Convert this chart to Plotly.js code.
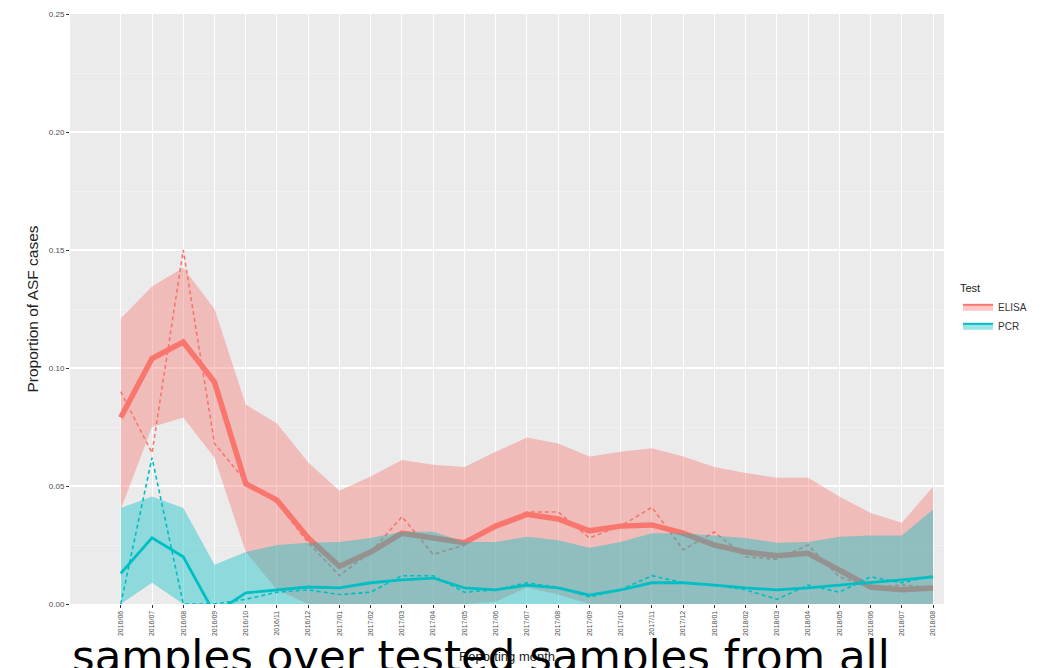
<!DOCTYPE html>
<html>
<head>
<meta charset="utf-8">
<script src="https://cdn.plot.ly/plotly-3.0.1.min.js"></script>
<style>html,body{margin:0;padding:0;background:#fff;}#chart{width:1044px;height:668px;}</style>
</head>
<body>
<div id="chart"></div>
<script>
// ---- data ----
var months = ["2016/06","2016/07","2016/08","2016/09","2016/10","2016/11","2016/12",
  "2017/01","2017/02","2017/03","2017/04","2017/05","2017/06","2017/07","2017/08",
  "2017/09","2017/10","2017/11","2017/12","2018/01","2018/02","2018/03","2018/04",
  "2018/05","2018/06","2018/07","2018/08"];

var elisaSmooth = [0.079,0.104,0.111,0.094,0.051,0.044,0.028,0.016,0.022,0.030,0.028,0.026,0.033,0.038,0.036,0.031,0.033,0.0335,0.030,0.025,0.022,0.0205,0.0215,0.0145,0.0072,0.006,0.0068];
var elisaRaw    = [0.090,0.064,0.150,0.068,0.052,0.043,0.026,0.012,0.022,0.037,0.021,0.025,0.033,0.039,0.039,0.028,0.033,0.041,0.023,0.0305,0.020,0.019,0.025,0.0115,0.007,0.008,0.007];
var elisaUpper  = [0.121,0.1345,0.1425,0.125,0.0845,0.0765,0.060,0.048,0.054,0.061,0.059,0.058,0.0645,0.0705,0.068,0.0625,0.0645,0.066,0.0625,0.058,0.0555,0.0535,0.0535,0.0455,0.0386,0.0344,0.0497];
var elisaLower  = [0.040,0.075,0.079,0.062,0.022,0.006,0,0,0,0,0,0,0.001,0.007,0.004,0,0,0,0,0,0,0,0,0,0,0,0];

var pcrSmooth = [0.013,0.028,0.020,-0.004,0.0047,0.006,0.0072,0.0068,0.009,0.0102,0.011,0.0068,0.006,0.008,0.0068,0.0038,0.006,0.009,0.009,0.008,0.0068,0.006,0.0068,0.008,0.009,0.0102,0.0115];
var pcrRaw    = [0.0,0.062,0.0,0.0,0.002,0.005,0.006,0.004,0.005,0.012,0.012,0.005,0.006,0.009,0.007,0.003,0.006,0.012,0.009,0.008,0.006,0.002,0.008,0.005,0.0115,0.009,0.012];
var pcrUpper  = [0.0407,0.0455,0.0407,0.0166,0.022,0.025,0.026,0.0263,0.028,0.0306,0.0306,0.0263,0.0263,0.0285,0.027,0.0238,0.0263,0.030,0.030,0.029,0.028,0.026,0.0263,0.0285,0.029,0.029,0.040];
var pcrLower  = [0,0.009,0,0,0,0,0,0,0,0,0,0,0,0,0,0,0,0,0,0,0,0,0,0,0,0,0];

var seriesNames = ["ELISA","PCR"];
var yTickVals = [0,0.05,0.10,0.15,0.20,0.25];
var captionText = "samples over tested samples from all";

// ---- styles ----
var RED = "#F8766D", TEAL = "#00BFC4";
var RED_FILL = "rgba(248,118,109,0.4)", TEAL_FILL = "rgba(0,191,196,0.4)";

function band(lower, upper, fill){
  return [
    {x: months, y: lower, type:"scatter", mode:"lines", line:{width:0, color:fill}, showlegend:false, hoverinfo:"skip"},
    {x: months, y: upper, type:"scatter", mode:"lines", line:{width:0, color:fill}, fill:"tonexty", fillcolor:fill, showlegend:false, hoverinfo:"skip"}
  ];
}

var traces = []
  .concat(band(elisaLower, elisaUpper, RED_FILL))
  .concat([
    {x: months, y: elisaRaw, type:"scatter", mode:"lines", line:{color:RED, width:1.6, dash:"4px,3px"}, showlegend:false},
    {x: months, y: elisaSmooth, type:"scatter", mode:"lines", line:{color:RED, width:5.5}, showlegend:false}
  ])
  .concat(band(pcrLower, pcrUpper, TEAL_FILL))
  .concat([
    {x: months, y: pcrRaw, type:"scatter", mode:"lines", line:{color:TEAL, width:1.6, dash:"4px,3px"}, showlegend:false},
    {x: months, y: pcrSmooth, type:"scatter", mode:"lines", line:{color:TEAL, width:2.8}, showlegend:false},
    // legend keys
    {x:[null], y:[null], type:"scatter", mode:"lines", name: seriesNames[0], legendgroup:"g1", fill:"toself", fillcolor:RED_FILL, line:{color:RED, width:2}},
    {x:[null], y:[null], type:"scatter", mode:"lines", name: seriesNames[1], legendgroup:"g2", fill:"toself", fillcolor:TEAL_FILL, line:{color:TEAL, width:2}}
  ]);

var layout = {
  width: 1044, height: 668,
  margin: {l:70, r:96, t:14, b:64, pad:0},
  paper_bgcolor: "#ffffff",
  plot_bgcolor: "#EBEBEB",
  font: {family: "Liberation Sans, Arial, sans-serif", color: "#4D4D4D"},
  xaxis: {
    type: "category",
    range: [-1.625, 26.35],
    tickangle: -90,
    tickfont: {size: 7, color: "#4D4D4D"},
    ticks: "outside", ticklen: 3, tickcolor: "#333333", tickwidth: 1,
    showgrid: true, gridcolor: "#ffffff", gridwidth: 1,
    zeroline: false, showline: false,
    title: {text: "Reporting month", font: {size: 13, color: "#222222"}, standoff: 16}
  },
  yaxis: {
    range: [0, 0.25],
    tickvals: yTickVals,
    tickformat: ".2f",
    tickfont: {size: 8, color: "#4D4D4D"},
    ticks: "outside", ticklen: 3, tickcolor: "#333333", tickwidth: 1,
    showgrid: true, gridcolor: "#ffffff", gridwidth: 1.1,
    minor: {dtick: 0.025, showgrid: true, gridcolor: "#F5F5F5", gridwidth: 0.6},
    zeroline: false, showline: false,
    title: {text: "Proportion of ASF cases", font: {size: 15.5, color: "#222222"}, standoff: 6}
  },
  showlegend: true,
  legend: {
    x: 1.016, xanchor: "left", y: 0.5525, yanchor: "top",
    traceorder: "normal",
    title: {text: "Test", font: {size: 11, color: "#222222"}},
    font: {size: 10, color: "#333333"},
    bgcolor: "rgba(0,0,0,0)",
    tracegroupgap: 6
  },
  annotations: [{
    text: captionText,
    xref: "paper", yref: "paper",
    x: 0.0005, xanchor: "left",
    y: -0.0425, yanchor: "top",
    showarrow: false,
    font: {family: "DejaVu Sans", size: 43.5, color: "#000000"}
  }]
};

Plotly.newPlot("chart", traces, layout, {displayModeBar: false, staticPlot: true});
</script>
</body>
</html>
